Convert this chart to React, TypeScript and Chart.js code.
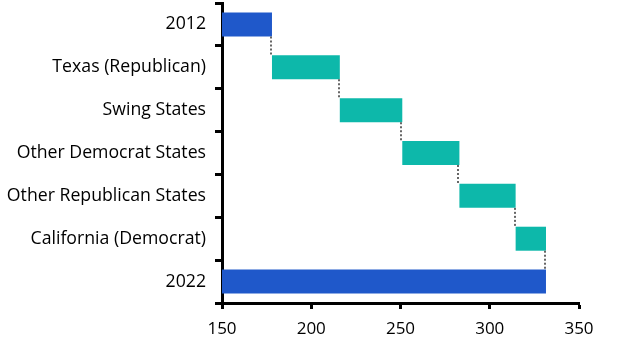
import React, { useEffect, useRef } from "react";
import { Chart, registerables } from "chart.js";

Chart.register(...registerables);

const categories = [
  "2012",
  "Texas (Republican)",
  "Swing States",
  "Other Democrat States",
  "Other Republican States",
  "California (Democrat)",
  "2022",
];
const starts = [150, 178, 216, 251, 283, 314.5, 150];
const ends = [178, 216, 251, 283, 314.5, 331.5, 331.5];
const barColors = ["#1F58CA", "#0DB8AA", "#0DB8AA", "#0DB8AA", "#0DB8AA", "#0DB8AA", "#1F58CA"];
const xTicks = [150, 200, 250, 300, 350];

const FONT = "'Open Sans', 'Noto Sans', sans-serif";

const connectorPlugin = {
  id: "connectors",
  afterDatasetsDraw(chart: any) {
    const meta = chart.getDatasetMeta(0);
    const xs = chart.scales.x;
    const ctx = chart.ctx;
    ctx.save();
    ctx.strokeStyle = "#666666";
    ctx.lineWidth = 2;
    ctx.setLineDash([2, 2]);
    for (let i = 0; i < meta.data.length - 1; i++) {
      const a = meta.data[i];
      const b = meta.data[i + 1];
      const x = Math.round(xs.getPixelForValue(ends[i])) - 1;
      ctx.beginPath();
      ctx.moveTo(x, a.y + a.height / 2);
      ctx.lineTo(x, b.y - b.height / 2);
      ctx.stroke();
    }
    ctx.restore();
  },
};

export default function App() {
  const ref = useRef<HTMLCanvasElement>(null);
  useEffect(() => {
    if (!ref.current) return;
    const chart = new Chart(ref.current, {
      type: "bar",
      data: {
        labels: categories,
        datasets: [
          {
            data: categories.map((_, i) => [starts[i], ends[i]]) as any,
            backgroundColor: barColors,
            borderWidth: 0,
            categoryPercentage: 1,
            barPercentage: 0.56,
          },
        ],
      },
      options: {
        indexAxis: "y",
        animation: false,
        responsive: false,
        maintainAspectRatio: false,
        layout: { padding: { top: 3, right: 53, left: 0, bottom: 0 } },
        plugins: { legend: { display: false }, tooltip: { enabled: false } },
        scales: {
          y: {
            offset: true,
            afterFit: (s: any) => {
              s.width = 222;
              s.paddingTop = 0;
              s.paddingBottom = 0;
            },
            grid: {
              offset: true,
              drawOnChartArea: false,
              drawTicks: true,
              tickLength: 7,
              tickWidth: 3,
              tickColor: "#000",
            },
            border: { display: true, color: "#000", width: 3 },
            ticks: {
              color: "#000",
              padding: 9,
              font: { family: FONT, size: 17.7 },
            },
          },
          x: {
            min: 150,
            max: 350,
            afterFit: (s: any) => {
              s.height = 51;
            },
            afterBuildTicks: (s: any) => {
              s.ticks = xTicks.map((v) => ({ value: v }));
            },
            grid: {
              drawOnChartArea: false,
              drawTicks: true,
              tickLength: 6,
              tickWidth: 3,
              tickColor: "#000",
            },
            border: { display: true, color: "#000", width: 3 },
            ticks: {
              color: "#000",
              padding: 10,
              font: { family: FONT, size: 17 },
            },
          },
        },
      },
      plugins: [connectorPlugin],
    });
    return () => chart.destroy();
  }, []);
  return (
    <div style={{ position: "fixed", left: 0, top: 0, width: 632, height: 354, background: "#fff" }}>
      <canvas ref={ref} width={632} height={354} style={{ width: 632, height: 354 }} />
    </div>
  );
}
